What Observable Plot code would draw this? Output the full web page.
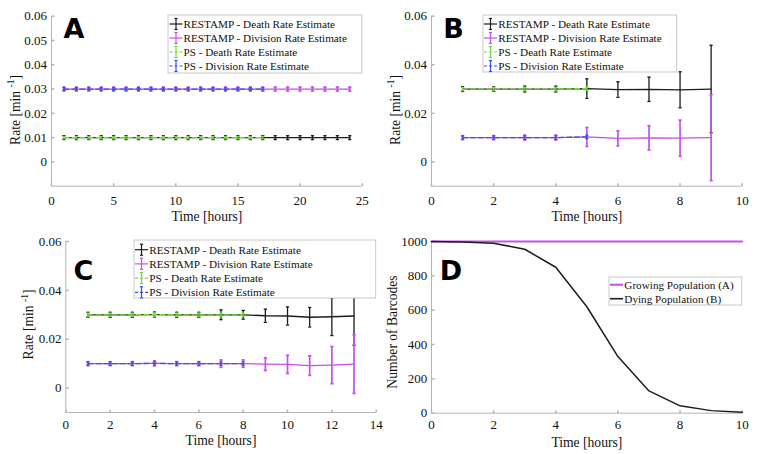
<!DOCTYPE html>
<html><head><meta charset="utf-8">
<script src="https://cdn.jsdelivr.net/npm/d3@7"></script>
<script src="https://cdn.jsdelivr.net/npm/@observablehq/plot@0.6"></script>
<style>
body{margin:0;background:#fff;}
#wrap{position:relative;width:761px;height:454px;overflow:hidden;background:#fff;}
#wrap svg{position:absolute;}
</style></head><body><div id="wrap"></div>
<script>
// ---------- DATA ----------
// Panel A
const hoursA = [1,2,3,4,5,6,7,8,9,10,11,12,13,14,15,16,17,18,19,20,21,22,23,24];
const restampDeathA = [0.01,0.01,0.01,0.01,0.01,0.01,0.01,0.01,0.01,0.01,0.01,0.01,0.01,0.01,0.01,0.01,0.01,0.01,0.01,0.01,0.01,0.01,0.01,0.01];
const restampDeathErrA = [0.0008,0.0008,0.0008,0.0008,0.0008,0.0008,0.0008,0.0008,0.0008,0.0008,0.0008,0.0008,0.0008,0.0008,0.0008,0.0008,0.0008,0.0008,0.0008,0.0008,0.0008,0.0008,0.0008,0.0008];
const restampDivA = [0.03,0.03,0.03,0.03,0.03,0.03,0.03,0.03,0.03,0.03,0.03,0.03,0.03,0.03,0.03,0.03,0.03,0.03,0.03,0.03,0.03,0.03,0.03,0.03];
const restampDivErrA = [0.0008,0.0008,0.0008,0.0008,0.0008,0.0008,0.0008,0.0008,0.0008,0.0008,0.0008,0.0008,0.0008,0.0008,0.0008,0.0008,0.0008,0.0008,0.0008,0.0008,0.0008,0.0008,0.0008,0.0008];
const psHoursA = [1,2,3,4,5,6,7,8,9,10,11,12,13,14,15,16,17];
const psDeathA = [0.01,0.01,0.01,0.01,0.01,0.01,0.01,0.01,0.01,0.01,0.01,0.01,0.01,0.01,0.01,0.01,0.01];
const psDeathErrA = [0.0005,0.0005,0.0005,0.0005,0.0005,0.0005,0.0005,0.0005,0.0005,0.0005,0.0005,0.0005,0.0005,0.0005,0.0005,0.0005,0.0005];
const psDivA = [0.03,0.03,0.03,0.03,0.03,0.03,0.03,0.03,0.03,0.03,0.03,0.03,0.03,0.03,0.03,0.03,0.03];
const psDivErrA = [0.0005,0.0005,0.0005,0.0005,0.0005,0.0005,0.0005,0.0005,0.0005,0.0005,0.0005,0.0005,0.0005,0.0005,0.0005,0.0005,0.0005];

// Panel B
const hoursB = [1,2,3,4,5,6,7,8,9];
const restampDeathB = [0.0300,0.0300,0.0300,0.0300,0.0302,0.0298,0.0299,0.0297,0.0300];
const restampDeathErrB = [0.0010,0.0009,0.0012,0.0012,0.0040,0.0032,0.0050,0.0074,0.0180];
const restampDivB = [0.0100,0.0100,0.0100,0.0100,0.0103,0.0097,0.0099,0.0098,0.0100];
const restampDivErrB = [0.0008,0.0008,0.0010,0.0010,0.0039,0.0031,0.0050,0.0074,0.0177];
const psHoursB = [1,2,3,4,5];
const psDeathB = [0.0300,0.0300,0.0300,0.0300,0.0302];
const psDeathErrB = [0.0007,0.0007,0.0007,0.0007,0.0007];
const psDivB = [0.0100,0.0100,0.0100,0.0100,0.0103];
const psDivErrB = [0.0007,0.0007,0.0007,0.0007,0.0007];

// Panel C
const hoursC = [1,2,3,4,5,6,7,8,9,10,11,12,13];
const restampDeathC = [0.0300,0.0300,0.0300,0.0301,0.0300,0.0300,0.0300,0.0300,0.0296,0.0295,0.0290,0.0292,0.0295];
const restampDeathErrC = [0.0010,0.0010,0.0010,0.0010,0.0010,0.0010,0.0020,0.0018,0.0027,0.0037,0.0040,0.0077,0.0120];
const restampDivC = [0.0100,0.0100,0.0100,0.0101,0.0100,0.0100,0.0100,0.0100,0.0098,0.0097,0.0092,0.0094,0.0098];
const restampDivErrC = [0.0008,0.0008,0.0008,0.0010,0.0008,0.0008,0.0015,0.0015,0.0026,0.0037,0.0040,0.0076,0.0120];
const psHoursC = [1,2,3,4,5,6,7,8];
const psDeathC = [0.0300,0.0300,0.0300,0.0301,0.0300,0.0300,0.0300,0.0300];
const psDeathErrC = [0.0007,0.0007,0.0007,0.0007,0.0007,0.0007,0.0007,0.0007];
const psDivC = [0.0100,0.0100,0.0100,0.0101,0.0100,0.0100,0.0100,0.0100];
const psDivErrC = [0.0007,0.0007,0.0007,0.0007,0.0007,0.0007,0.0007,0.0007];

// Panel D
const hoursD = [0,1,2,3,4,5,6,7,8,9,10];
const growingD = [1000,1000,1000,1000,1000,1000,1000,1000,1000,1000,1000];
const dyingD = [1000,997,990,955,850,620,330,130,43,15,5];

// Labels & ticks
const rateLegendLabels = ["RESTAMP - Death Rate Estimate","RESTAMP - Division Rate Estimate","PS - Death Rate Estimate","PS - Division Rate Estimate"];
const popLegendLabels = ["Growing Population (A)","Dying Population (B)"];
const panelLetters = ["A","B","C","D"];
const xTicksA = [0,5,10,15,20,25];
const xTicksB = [0,2,4,6,8,10];
const xTicksC = [0,2,4,6,8,10,12,14];
const xTicksD = [0,2,4,6,8,10];
const yTicksA = [0,0.01,0.02,0.03,0.04,0.05,0.06];
const yTicksBC = [0,0.02,0.04,0.06];
const yTicksD = [0,200,400,600,800,1000];
const xLabel = "Time [hours]";
const yLabelRate = "Rate [min ";
const yLabelRateSup = "-1";
const yLabelPop = "Number of Barcodes";

// ---------- STYLE ----------
const SERIF = "'Liberation Serif','Times New Roman',serif";
const SANS = "'DejaVu Sans',Verdana,sans-serif";
const BLACK = "#1c1c1c", PURPLE = "#c550e8", GREEN = "#74dc3c", BLUE = "#3652e2", AXIS = "#b4b4b4";

const capSym = {draw(ctx, size){ const r = Math.sqrt(size/Math.PI); ctx.moveTo(-r,0); ctx.lineTo(r,0); }};
const tickUp = {draw(ctx, size){ const r = Math.sqrt(size/Math.PI); ctx.moveTo(0,0); ctx.lineTo(0,-r); }};
const tickRight = {draw(ctx, size){ const r = Math.sqrt(size/Math.PI); ctx.moveTo(0,0); ctx.lineTo(r,0); }};

const fmtRate = d => d === 0 ? "0" : d.toFixed(2);

function axisMarks(xDomain, yDomain, xTicks, yTicks, yFmt, tickDy, tickDx, labelDy) {
  return [
    Plot.ruleY([yDomain[0]], {stroke: AXIS, strokeWidth: 1}),
    Plot.ruleX([xDomain[0]], {stroke: AXIS, strokeWidth: 1}),
    Plot.dot(xTicks, {x: d => d, y: yDomain[0], symbol: tickUp, r: 3, stroke: AXIS, fill: "none"}),
    Plot.dot(yTicks, {x: xDomain[0], y: d => d, symbol: tickRight, r: 3, stroke: AXIS, fill: "none"}),
    Plot.text(xTicks, {x: d => d, y: yDomain[0], text: d => String(d), dy: tickDy, fontSize: 13, fill: "#111", lineAnchor: "middle"}),
    Plot.text(yTicks, {x: xDomain[0], y: d => d, text: yFmt, dx: tickDx, textAnchor: "end", fontSize: 13, fill: "#111"}),
    Plot.text([xLabel], {frameAnchor: "bottom", text: d => d, dy: labelDy, lineAnchor: "middle", fontSize: 13.6, fill: "#111"})
  ];
}

function series(xs, ys, es, color, dashed, sw) {
  const rows = xs.map((x, i) => ({x, y: ys[i], lo: ys[i] - es[i], hi: ys[i] + es[i]}));
  const lineOpts = {x: "x", y: "y", stroke: color, strokeWidth: 1.3};
  if (dashed) lineOpts.strokeDasharray = "5,3";
  return [
    Plot.line(rows, lineOpts),
    Plot.ruleX(rows, {x: "x", y1: "lo", y2: "hi", stroke: color, strokeWidth: sw}),
    Plot.dot(rows, {x: "x", y: "lo", symbol: capSym, r: 1.6, stroke: color, strokeWidth: sw, fill: "none"}),
    Plot.dot(rows, {x: "x", y: "hi", symbol: capSym, r: 1.6, stroke: color, strokeWidth: sw, fill: "none"})
  ];
}

function ratePanel(o) {
  const yDomain = [-0.01, 0.06];
  return Plot.plot({
    width: o.width, height: 227,
    marginLeft: o.ml, marginRight: o.mr, marginTop: o.mt, marginBottom: o.mb,
    x: {domain: o.xDomain, axis: null},
    y: {domain: yDomain, axis: null},
    style: {fontFamily: SERIF, background: "transparent", overflow: "visible"},
    marks: [
      ...axisMarks(o.xDomain, yDomain, o.xTicks, o.yTicks, fmtRate, o.tickDy, -4.4, o.labelDy),
      ...series(o.hours, o.death, o.deathErr, BLACK, false, 1.3),
      ...series(o.hours, o.div, o.divErr, PURPLE, false, 1.7),
      ...series(o.psHours, o.psDeath, o.psDeathErr, GREEN, true, 1.2),
      ...series(o.psHours, o.psDiv, o.psDivErr, BLUE, true, 1.2)
    ]
  });
}

function place(svg, left, top) {
  svg.style.left = left + "px";
  svg.style.top = top + "px";
  svg.style.maxWidth = "none";
  document.getElementById("wrap").appendChild(svg);
  return d3.select(svg);
}

function letter(sel, ch, x, y) {
  sel.append("text").attr("x", x).attr("y", y).attr("text-anchor", "middle").attr("dy", "0.36em")
    .attr("font-family", SANS).attr("font-weight", "bold").attr("font-size", 27).attr("fill", "#000").text(ch);
}

function yLabel(sel, x, y, main, sup) {
  const t = sel.append("text").attr("transform", `translate(${x},${y}) rotate(-90)`).attr("text-anchor", "middle")
    .attr("dy", "0.35em").attr("font-family", SERIF).attr("font-size", 13.6).attr("fill", "#111");
  t.append("tspan").text(main);
  if (sup) {
    t.append("tspan").attr("font-size", 9.5).attr("dy", -5.5).text(sup);
    t.append("tspan").attr("dy", 5.5).text("]");
  }
}

function legend(sel, L) {
  const g = sel.append("g").attr("text-anchor", "start");
  g.append("rect").attr("x", L.x).attr("y", L.y).attr("width", L.w).attr("height", L.h)
    .attr("fill", "#fff").attr("stroke", "#c4c4c4").attr("stroke-width", 0.9);
  L.items.forEach((it, i) => {
    const cy = L.y0 + i * L.step;
    const cx = (L.sx0 + L.sx1) / 2;
    g.append("line").attr("x1", L.sx0).attr("x2", L.sx1).attr("y1", cy).attr("y2", cy)
      .attr("stroke", it.color).attr("stroke-width", it.sw).attr("stroke-dasharray", it.dashed ? "3,2" : null);
    if (it.err) {
      g.append("line").attr("x1", cx).attr("x2", cx).attr("y1", cy - 5.5).attr("y2", cy + 5.5).attr("stroke", it.color).attr("stroke-width", 1.2);
      g.append("line").attr("x1", cx - 1.6).attr("x2", cx + 1.6).attr("y1", cy - 5.5).attr("y2", cy - 5.5).attr("stroke", it.color).attr("stroke-width", 1.2);
      g.append("line").attr("x1", cx - 1.6).attr("x2", cx + 1.6).attr("y1", cy + 5.5).attr("y2", cy + 5.5).attr("stroke", it.color).attr("stroke-width", 1.2);
    }
    g.append("text").attr("x", L.tx).attr("y", cy).attr("dy", "0.35em").attr("text-anchor", "start").attr("font-family", SERIF)
      .attr("font-size", 11.2).attr("fill", "#111").text(it.label);
  });
}

const rateItems = [
  {label: rateLegendLabels[0], color: BLACK, dashed: false, err: true, sw: 1.2},
  {label: rateLegendLabels[1], color: PURPLE, dashed: false, err: true, sw: 1.2},
  {label: rateLegendLabels[2], color: GREEN, dashed: true, err: true, sw: 1.2},
  {label: rateLegendLabels[3], color: BLUE, dashed: true, err: true, sw: 1.2}
];

// ---------- PANEL A ----------
{
  const svg = ratePanel({width: 380, ml: 51, mr: 18.3, mt: 15.7, mb: 41.3, xDomain: [0, 25], xTicks: xTicksA, yTicks: yTicksA,
    tickDy: 14.3, labelDy: 30.3,
    hours: hoursA, death: restampDeathA, deathErr: restampDeathErrA, div: restampDivA, divErr: restampDivErrA,
    psHours: psHoursA, psDeath: psDeathA, psDeathErr: psDeathErrA, psDiv: psDivA, psDivErr: psDivErrA});
  const s = place(svg, 0, 0);
  letter(s, panelLetters[0], 74, 28);
  yLabel(s, 15, 110, yLabelRate, yLabelRateSup);
  legend(s, {x: 168, y: 15, w: 193.7, h: 58, y0: 24, step: 14, sx0: 169.5, sx1: 182.5, tx: 183.5, items: rateItems});
}
// ---------- PANEL B ----------
{
  const svg = ratePanel({width: 381, ml: 51, mr: 19.3, mt: 15.7, mb: 41.3, xDomain: [0, 10], xTicks: xTicksB, yTicks: yTicksBC,
    tickDy: 14.3, labelDy: 30.3,
    hours: hoursB, death: restampDeathB, deathErr: restampDeathErrB, div: restampDivB, divErr: restampDivErrB,
    psHours: psHoursB, psDeath: psDeathB, psDeathErr: psDeathErrB, psDiv: psDivB, psDivErr: psDivErrB});
  const s = place(svg, 380, 0);
  letter(s, panelLetters[1], 73.5, 28);
  yLabel(s, 15, 110, yLabelRate, yLabelRateSup);
  legend(s, {x: 103, y: 15, w: 193.7, h: 57, y0: 24, step: 14, sx0: 104, sx1: 117, tx: 118.3, items: rateItems});
}
// ---------- PANEL C ----------
{
  const svg = ratePanel({width: 380, ml: 65.3, mr: 4.3, mt: 14, mb: 42, xDomain: [0, 14], xTicks: xTicksC, yTicks: yTicksBC,
    tickDy: 12, labelDy: 28.3,
    hours: hoursC, death: restampDeathC, deathErr: restampDeathErrC, div: restampDivC, divErr: restampDivErrC,
    psHours: psHoursC, psDeath: psDeathC, psDeathErr: psDeathErrC, psDiv: psDivC, psDivErr: psDivErrC});
  const s = place(svg, 0, 227);
  letter(s, panelLetters[2], 83.5, 43);
  yLabel(s, 28.3, 97.5, yLabelRate, yLabelRateSup);
  legend(s, {x: 134, y: 13, w: 241.7, h: 58, y0: 22.7, step: 14.2, sx0: 135, sx1: 148, tx: 149.3, items: rateItems});
}
// ---------- PANEL D ----------
{
  const xDomain = [0, 10], yDomain = [0, 1000];
  const rowsG = hoursD.map((x, i) => ({x, y: growingD[i]}));
  const rowsD = hoursD.map((x, i) => ({x, y: dyingD[i]}));
  const svg = Plot.plot({
    width: 381, height: 227, marginLeft: 51, marginRight: 19.3, marginTop: 14, marginBottom: 41.3,
    x: {domain: xDomain, axis: null},
    y: {domain: yDomain, axis: null},
    style: {fontFamily: SERIF, background: "transparent", overflow: "visible"},
    marks: [
      ...axisMarks(xDomain, yDomain, xTicksD, yTicksD, d => String(d), 11.7, -4.3, 29.3),
      Plot.line(rowsG, {x: "x", y: "y", stroke: PURPLE, strokeWidth: 2}),
      Plot.line(rowsD, {x: "x", y: "y", stroke: BLACK, strokeWidth: 1.5})
    ]
  });
  const s = place(svg, 380, 227);
  letter(s, panelLetters[3], 71, 43);
  yLabel(s, 12.5, 105, yLabelPop, null);
  legend(s, {x: 229, y: 50, w: 132.7, h: 28, y0: 57.7, step: 14, sx0: 230, sx1: 243, tx: 244.3, items: [
    {label: popLegendLabels[0], color: PURPLE, dashed: false, err: false, sw: 2},
    {label: popLegendLabels[1], color: BLACK, dashed: false, err: false, sw: 1.6}
  ]});
}
</script></body></html>
